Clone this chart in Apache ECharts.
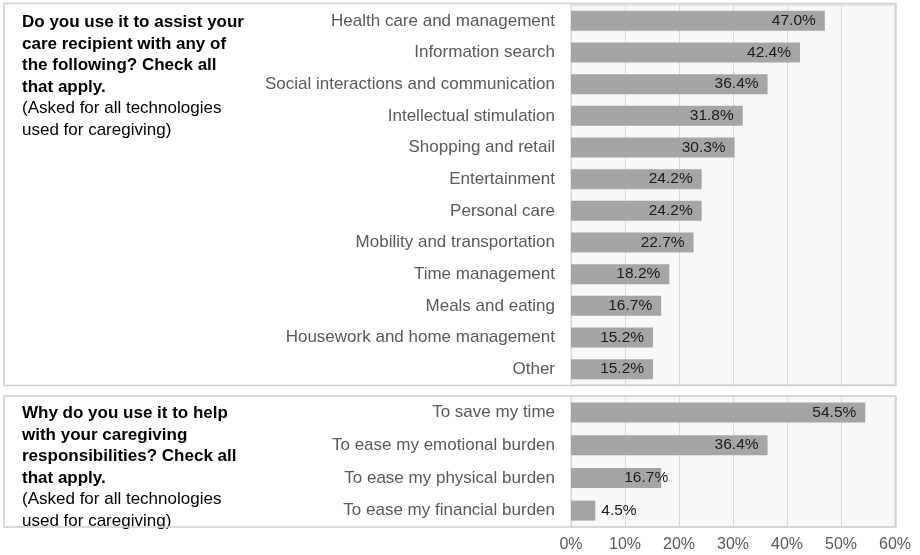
<!DOCTYPE html>
<html>
<head>
<meta charset="utf-8">
<script src="https://cdn.jsdelivr.net/npm/echarts@6/dist/echarts.min.js"></script>
<style>html,body{margin:0;padding:0;background:#fff;}#c{width:920px;height:555px;}</style>
</head>
<body>
<div id="c"></div>
<script>
const topCategories = ["Health care and management","Information search","Social interactions and communication","Intellectual stimulation","Shopping and retail","Entertainment","Personal care","Mobility and transportation","Time management","Meals and eating","Housework and home management","Other"];
const topValues = [47.0,42.4,36.4,31.8,30.3,24.2,24.2,22.7,18.2,16.7,15.2,15.2];
const bottomCategories = ["To save my time","To ease my emotional burden","To ease my physical burden","To ease my financial burden"];
const bottomValues = [54.5,36.4,16.7,4.5];
const tickLabels = ["0%","10%","20%","30%","40%","50%","60%"];
const topQuestion = ["Do you use it to assist your","care recipient with any of","the following? Check all","that apply."];
const bottomQuestion = ["Why do you use it to help","with your caregiving","responsibilities? Check all","that apply."];
const note = ["(Asked for all technologies","used for caregiving)"];

const FONT = "'Liberation Sans', Arial, sans-serif";
const chart = echarts.init(document.getElementById('c'));

function valueAxis(gridIndex, showLabels) {
  return {
    type: 'value', gridIndex: gridIndex, min: 0, max: 60, interval: 10,
    axisLine: {show: false}, axisTick: {show: false},
    splitLine: {show: true, lineStyle: {color: '#d9d9d9', width: 1}},
    axisLabel: {show: showLabels, color: '#595959', fontSize: 16, fontFamily: FONT, margin: 10,
      formatter: v => tickLabels[Math.round(v / 10)]}
  };
}
function catAxis(gridIndex, cats) {
  return {
    type: 'category', gridIndex: gridIndex, data: cats, inverse: true,
    axisLine: {show: true, lineStyle: {color: '#d9d9d9'}}, axisTick: {show: false},
    axisLabel: {color: '#595959', fontSize: 17, fontFamily: FONT, margin: 16}
  };
}
const baseLabel = {show: true, position: 'insideRight', distance: 9, color: '#1a1a1a', fontSize: 15.5, fontFamily: FONT,
  formatter: p => p.value.toFixed(1) + '%'};

const bottomData = bottomValues.map((v, i) => {
  if (i === 2) return {value: v, label: {position: 'insideRight', offset: [16, 0]}};
  if (i === 3) return {value: v, label: {position: 'right', distance: 6}};
  return v;
});

function textBlock(x, y, boldLines, normalLines) {
  const els = [];
  let yy = y;
  boldLines.forEach(t => {
    els.push({type: 'text', left: x, top: yy, style: {text: t, fill: '#000', font: 'bold 17px ' + FONT}});
    yy += 21.5;
  });
  normalLines.forEach(t => {
    els.push({type: 'text', left: x, top: yy, style: {text: t, fill: '#000', font: '17px ' + FONT}});
    yy += 21.5;
  });
  return els;
}

chart.setOption({
  animation: false,
  grid: [
    {left: 571, right: 25, top: 5, height: 380, show: true, backgroundColor: '#f8f8f8', borderColor: '#d4d4d4', borderWidth: 1},
    {left: 571, right: 25, top: 396, height: 131, show: true, backgroundColor: '#f8f8f8', borderColor: '#d4d4d4', borderWidth: 1}
  ],
  xAxis: [valueAxis(0, false), valueAxis(1, true)],
  yAxis: [catAxis(0, topCategories), catAxis(1, bottomCategories)],
  series: [
    {type: 'bar', xAxisIndex: 0, yAxisIndex: 0, data: topValues, barWidth: 20,
      itemStyle: {color: '#a5a5a5'}, label: baseLabel},
    {type: 'bar', xAxisIndex: 1, yAxisIndex: 1, data: bottomData, barWidth: 20,
      itemStyle: {color: '#a5a5a5'}, label: baseLabel}
  ],
  graphic: [
    {type: 'rect', shape: {x: 4, y: 3.5, width: 892, height: 382}, style: {fill: 'none', stroke: '#cfcfcf', lineWidth: 1.5}, z: 10},
    {type: 'rect', shape: {x: 4, y: 396, width: 892, height: 131}, style: {fill: 'none', stroke: '#cfcfcf', lineWidth: 1.5}, z: 10}
  ].concat(textBlock(22, 14, topQuestion, note)).concat(textBlock(22, 405, bottomQuestion, note))
});
</script>
</body>
</html>
